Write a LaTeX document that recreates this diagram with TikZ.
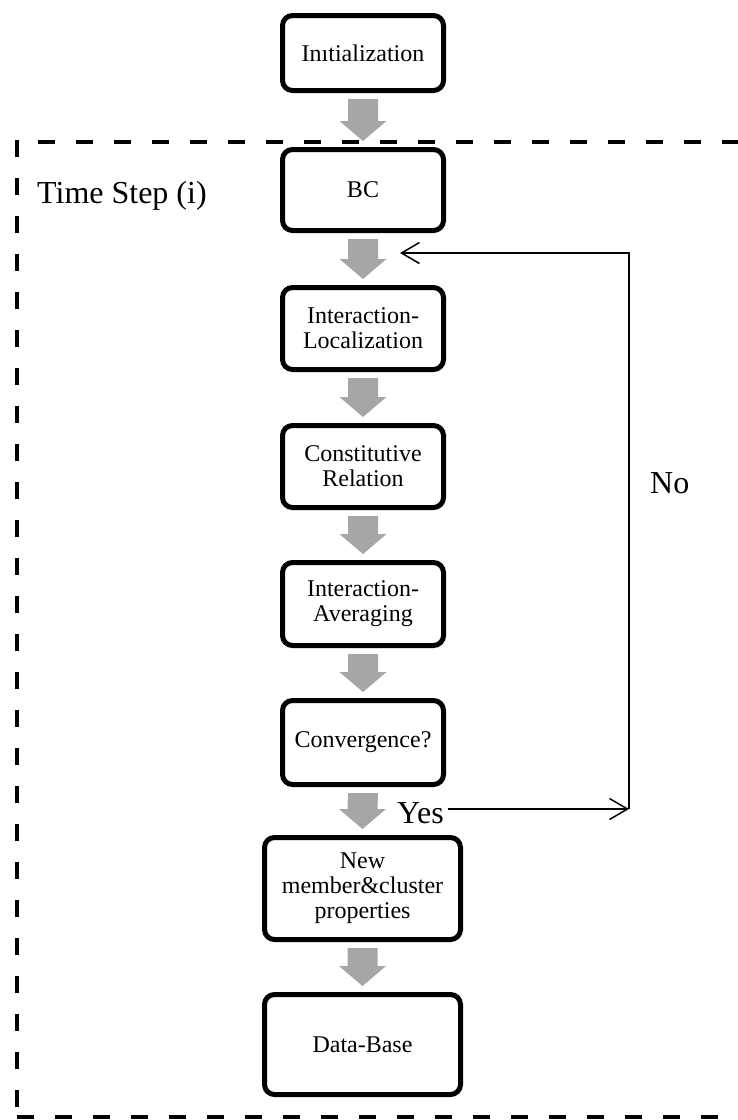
\documentclass[tikz,border=0pt]{standalone}
\usepackage{fontspec}
\setmainfont{Liberation Serif}
\usetikzlibrary{arrows.meta,calc}
\definecolor{arrowgray}{RGB}{166,166,166}
\tikzset{
  stepbox/.style={draw=black, line width=5pt, rounded corners=10pt, fill=white,
    align=center, font=\fontsize{24}{25}\selectfont, inner sep=2pt, minimum width=161pt},
  widebox/.style={stepbox, minimum width=196pt},
  bigtext/.style={font=\fontsize{32}{38}\selectfont, inner sep=0pt},
  fb/.style={line width=1.5pt, -{Straight Barb[length=18pt,width=21pt]}},
  frame/.style={line width=4.5pt, dash pattern=on 17pt off 21pt}
}
\newcommand\flowarrow[2]{%
  \fill[arrowgray] ([shift={(-15pt,-6pt)}]#1.south) -- ([shift={(15pt,-6pt)}]#1.south)
    -- ([shift={(15pt,26pt)}]#2.north) -- ([shift={(23.5pt,26pt)}]#2.north)
    -- ([yshift=6pt]#2.north) -- ([shift={(-23.5pt,26pt)}]#2.north)
    -- ([shift={(-15pt,26pt)}]#2.north) -- cycle;}
\begin{document}
\begin{tikzpicture}[x=1pt,y=-1pt]
\useasboundingbox (0,0) rectangle (738,1120);
\begin{scope}
  \clip (0,0) rectangle (738,1120);
  \draw[frame] (17,140) -- (17,1117);
  \draw[frame, dash phase=17pt] (17,142) -- (780,142);
  \draw[frame] (17,1117) -- (780,1117);
\end{scope}

\node[stepbox, minimum height=75pt] (init) at (363,53) {Inıtialization};
\node[stepbox, minimum height=81pt] (bc) at (363,190) {BC};
\node[stepbox, minimum height=82pt] (loc) at (363,328.5) {Interaction-\\Localization};
\node[stepbox, minimum height=82pt] (con) at (363,466.5) {Constitutive\\Relation};
\node[stepbox, minimum height=83pt] (avg) at (363,604) {Interaction-\\Averaging};
\node[stepbox, minimum height=84pt] (conv) at (363,742.5) {Convergence?};
\node[widebox, minimum height=102pt] (new) at (362.5,888.5) {New\\member\&cluster\\properties};
\node[widebox, minimum height=100pt] (db) at (362.5,1044.5) {Data-Base};

\flowarrow{init}{bc}
\flowarrow{bc}{loc}
\flowarrow{loc}{con}
\flowarrow{con}{avg}
\flowarrow{avg}{conv}
\flowarrow{conv}{new}
\flowarrow{new}{db}

\node[bigtext, anchor=base west] (ts) at (37,203) {Time Step (i)};
\node[bigtext, anchor=base west] (no) at (650,493) {No};
\node[bigtext, inner xsep=4pt, anchor=base west] (yes) at (393,823) {Yes};

\coordinate (yc) at (629,809);
\coordinate (tc) at (629,253);
\coordinate (le) at (400,253);
\draw[fb] (yes.east |- yc) -- (yc);
\draw[fb] (yc) -- (tc) -- (le);
\end{tikzpicture}
\end{document}
